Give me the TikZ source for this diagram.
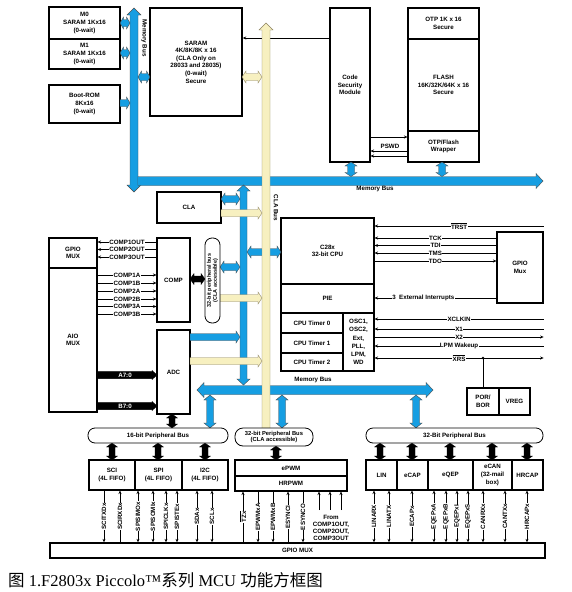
\documentclass[tikz,border=0pt]{standalone}
\usepackage{fontspec}
\setmainfont{Liberation Serif}
\newfontfamily\dsans{Liberation Sans}
\newfontfamily\cjk{Noto Sans CJK SC}
\usetikzlibrary{arrows.meta}
\definecolor{busblue}{RGB}{22,158,226}
\definecolor{busbeige}{RGB}{247,240,192}
\definecolor{beigeedge}{RGB}{140,130,95}
\newcommand\boxfont{\dsans\bfseries\fontsize{6.2}{7.6}\selectfont}
\newcommand\fatsize[3]{\def\faw{#1}\def\fah{#2}\def\fal{#3}}
\newcommand\arrDH[4]{\path[#1] (#2,#4) -- ({#2+\fal},{#4-\fah}) -- ({#2+\fal},{#4-\faw}) -- ({#3-\fal},{#4-\faw}) -- ({#3-\fal},{#4-\fah}) -- (#3,#4) -- ({#3-\fal},{#4+\fah}) -- ({#3-\fal},{#4+\faw}) -- ({#2+\fal},{#4+\faw}) -- ({#2+\fal},{#4+\fah}) -- cycle;}
\newcommand\arrRH[4]{\path[#1] (#2,{#4-\faw}) -- ({#3-\fal},{#4-\faw}) -- ({#3-\fal},{#4-\fah}) -- (#3,#4) -- ({#3-\fal},{#4+\fah}) -- ({#3-\fal},{#4+\faw}) -- (#2,{#4+\faw}) -- cycle;}
\newcommand\arrDV[4]{\path[#1] (#2,#3) -- ({#2+\fah},{#3+\fal}) -- ({#2+\faw},{#3+\fal}) -- ({#2+\faw},{#4-\fal}) -- ({#2+\fah},{#4-\fal}) -- (#2,#4) -- ({#2-\fah},{#4-\fal}) -- ({#2-\faw},{#4-\fal}) -- ({#2-\faw},{#3+\fal}) -- ({#2-\fah},{#3+\fal}) -- cycle;}
\newcommand\arrUV[4]{\path[#1] (#2,#3) -- ({#2+\fah},{#3+\fal}) -- ({#2+\faw},{#3+\fal}) -- ({#2+\faw},#4) -- ({#2-\faw},#4) -- ({#2-\faw},{#3+\fal}) -- ({#2-\fah},{#3+\fal}) -- cycle;}
\newcommand\mkbox[7][]{\node[box,#1,minimum width={#5-#3},minimum height={#6-#4}] (#2) at ({(#3+#5)/2},{(#4+#6)/2}) {#7};}
\newcommand\sigv[4]{\draw[sig,#1] (#2.south -| #3,0) -- (gbar.north -| #3,0) node[midway,vlab] {#4};}
\begin{document}
\begin{tikzpicture}[x=1pt,y=-1pt,>={Stealth[length=3.4pt,width=3pt]},
  box/.style={draw,line width=1.2pt,fill=white,align=center,inner sep=0pt,font=\boxfont},
  pill/.style={draw,line width=0.8pt,fill=white,rounded corners=7pt,align=center,inner sep=0pt,font=\boxfont},
  bluef/.style={fill=busblue,draw=black!70,line width=0.4pt},
  beigef/.style={fill=busbeige,draw=beigeedge,line width=0.4pt},
  blackf/.style={fill=black,draw=black,line width=0.3pt},
  sig/.style={line width=0.6pt},
  lab/.style={fill=white,inner sep=0.4pt,font=\boxfont},
  vlab/.style={lab,rotate=90}]
\fill[white] (0,0) rectangle (572,592);
\useasboundingbox (0,0) rectangle (572,592);
% ---- boxes
\mkbox{m0}{49}{7}{120}{39}{M0\\SARAM 1Kx16\\(0-wait)}
\mkbox{m1}{49}{39}{120}{69}{M1\\SARAM 1Kx16\\(0-wait)}
\mkbox{brom}{49}{85}{120}{123}{Boot-ROM\\8Kx16\\(0-wait)}
\mkbox[line width=1.6pt]{saram}{150}{8}{242}{116}{SARAM\\4K/8K/8K x 16\\(CLA Only on\\28033 and 28035)\\(0-wait)\\Secure}
\mkbox{csm}{330}{8}{370}{162}{Code\\Security\\Module}
\mkbox{otp}{408}{8}{479}{39}{OTP 1K x 16\\Secure}
\mkbox[line width=1.6pt]{flash}{408}{39}{479}{131}{FLASH\\16K/32K/64K x 16\\Secure}
\mkbox{wrap}{408}{131}{479}{162}{OTP/Flash\\Wrapper}
\mkbox[line width=1.6pt]{cla}{157}{192}{221}{223}{CLA}
\mkbox{cpu}{281}{218}{374}{284}{C28x\\32-bit CPU}
\mkbox{pie}{281}{284}{374}{313}{PIE}
\mkbox{t0}{281}{313}{343}{333}{CPU Timer 0}
\mkbox{t1}{281}{333}{343}{353}{CPU Timer 1}
\mkbox{t2}{281}{353}{343}{371}{CPU Timer 2}
\mkbox[font=\dsans\bfseries\fontsize{6.2}{8.3}\selectfont]{osc}{343}{313}{374}{371}{OSC1,\\OSC2,\\Ext,\\PLL,\\LPM,\\WD}
\mkbox{gmuxl}{49}{238}{97}{268}{GPIO\\MUX}
\mkbox{aio}{49}{268}{97}{412}{AIO\\MUX}
\mkbox{comp}{157}{238}{190}{322}{COMP}
\mkbox{adc}{157}{330}{190}{414}{ADC}
\mkbox{gmuxr}{497}{232}{543}{303}{GPIO\\Mux}
\mkbox{por}{467}{388}{499}{415}{POR/\\BOR}
\mkbox{vreg}{499}{388}{530}{415}{VREG}
\mkbox{sci}{89}{460}{135}{490}{SCI\\(4L FIFO)}
\mkbox{spi}{135}{460}{182}{490}{SPI\\(4L FIFO)}
\mkbox{iic}{182}{460}{228}{490}{I2C\\(4L FIFO)}
\mkbox{epwm}{235}{460}{347}{476}{ePWM}
\mkbox{hrpwm}{235}{476}{347}{491}{HRPWM}
\mkbox{lin}{366}{460}{397}{490}{LIN}
\mkbox{ecap}{397}{460}{428}{490}{eCAP}
\mkbox{eqep}{428}{460}{473}{490}{eQEP}
\mkbox{ecan}{473}{460}{512}{490}{eCAN\\(32-mail\\box)}
\mkbox{hrcap}{512}{460}{543}{490}{HRCAP}
\mkbox[line width=1.5pt]{gbar}{50}{543}{545}{558}{GPIO MUX}
% ---- CSM to SARAM
\draw[sig,->] (csm.west |- 0,38) -- (saram.east |- 0,38);
% ---- blue buses
\fatsize{4}{7}{7}\arrDV{bluef}{134}{8}{192}
\fatsize{4.5}{7.5}{7}\arrRH{bluef}{138}{543}{181}
\fill[busblue] (137.5,176.75) rectangle (138.6,185.25);
\fatsize{3.5}{6}{3.5}
\arrDH{bluef}{120}{130}{23}
\arrDH{bluef}{120}{130}{53}
\arrRH{bluef}{120}{130}{103}
\arrDH{bluef}{138}{150}{77}
\fatsize{3.5}{6}{4}
\arrDV{bluef}{351}{162}{176.5}
\arrDV{bluef}{442}{162}{176.5}
\fatsize{3.5}{6.5}{6}\arrDV{bluef}{243.5}{185}{385}
\fatsize{4.5}{7.5}{7}\arrDH{bluef}{197}{433}{390}
\fatsize{3.5}{6}{5}
\arrDV{bluef}{210}{395}{428}
\arrDV{bluef}{282}{395}{428}
\arrDV{bluef}{416}{395}{428}
\fatsize{3.5}{6}{4}
\arrDH{bluef}{221}{240}{199}
\arrDH{bluef}{220}{240}{267}
\arrRH{bluef}{190}{240}{337}
\arrDH{bluef}{247}{281}{252}
% ---- CLA bus
\fatsize{4}{7}{7}\arrUV{beigef}{266}{23}{430}
\fatsize{3.5}{6}{4}
\arrDH{beigef}{242}{262}{77}
\arrRH{beigef}{221}{262}{213}
\arrRH{beigef}{220}{262}{298}
\arrRH{beigef}{190}{262}{361}
% ---- bus labels
\node[lab,fill=none,rotate=-90] (mbv) at (144,38) {Memory Bus};
\node[lab,fill=none] (mbh) at (375,189) {Memory Bus};
\node[lab,fill=none] (mbl) at (313,380) {Memory Bus};
\node[lab,fill=none,rotate=-90] (clab) at (276,208) {CLA Bus};
% ---- black arrows
\fatsize{3}{5.5}{4}
\arrDH{blackf}{190}{205}{279}
\arrDV{blackf}{172}{414}{428}
\arrDV{blackf}{112}{443}{460}
\arrDV{blackf}{158}{443}{460}
\arrDV{blackf}{205}{443}{460}
\arrDV{blackf}{276}{446}{460}
\arrDV{blackf}{380}{443}{460}
\arrDV{blackf}{412}{443}{460}
\arrDV{blackf}{450}{443}{460}
\arrDV{blackf}{492}{443}{460}
\arrDV{blackf}{527}{443}{460}
\fatsize{3.6}{4.6}{5}
\arrRH{blackf}{97}{157}{375}
\arrRH{blackf}{97}{157}{406}
\node[font=\boxfont,text=white,inner sep=0] (a70) at (125,375) {A7:0};
\node[font=\boxfont,text=white,inner sep=0] (b70) at (125,406) {B7:0};
% ---- pills
\node[pill,rotate=90,minimum width=85,minimum height=15,font=\dsans\bfseries\fontsize{5.4}{6}\selectfont] (pv) at (212.5,280.5) {32-bit peripheral bus\\(CLA accessible)};
\node[pill,minimum width=140,minimum height=15] (p16) at (158,435.5) {16-bit Peripheral Bus};
\node[pill,minimum width=78,minimum height=18,rounded corners=8pt,font=\dsans\bfseries\fontsize{5.8}{6.2}\selectfont] (p32) at (274,437) {32-bit Peripheral Bus\\(CLA accessible)};
\node[pill,minimum width=177,minimum height=15] (p32r) at (454.5,435.5) {32-Bit Peripheral Bus};
% ---- CSM / wrapper
\draw[sig,->] (csm.east |- 0,137) -- (wrap.west |- 0,137);
\draw[sig,->] (wrap.west |- 0,151) -- (csm.east |- 0,151);
\draw[sig,->] (wrap.west |- 0,156) -- (csm.east |- 0,156);
\node[lab,fill=none] (pswd) at (390,146) {PSWD};
% ---- comparator signals
\foreach \yy/\tt in {242/COMP1OUT,249.5/COMP2OUT,257/COMP3OUT}
  \draw[sig,->] (comp.west |- 0,\yy) -- (gmuxl.east |- 0,\yy) node[midway,lab] {\tt};
\foreach \yy/\tt in {275/COMP1A,283/COMP1B,291/COMP2A,299/COMP2B,306.5/COMP3A,314/COMP3B}
  \draw[sig,->] (aio.east |- 0,\yy) -- (comp.west |- 0,\yy) node[midway,lab] {\tt};
% ---- right side signals
\draw[sig,<-] (cpu.east |- 0,226) -- (gmuxr.east |- 0,226) node[midway,lab] {$\overline{\mbox{TRST}}$};
\draw[sig,<-] (cpu.east |- 0,238) -- (gmuxr.west |- 0,238) node[midway,lab] {TCK};
\draw[sig,<-] (cpu.east |- 0,245.5) -- (gmuxr.west |- 0,245.5) node[midway,lab] {TDI};
\draw[sig,<-] (cpu.east |- 0,253) -- (gmuxr.west |- 0,253) node[midway,lab] {TMS};
\draw[sig,->] (cpu.east |- 0,261) -- (gmuxr.west |- 0,261) node[midway,lab] {TDO};
\draw[sig,<-] (pie.east |- 0,298) -- (gmuxr.west |- 0,298) node[pos=0.4,lab] {3\ \ External Interrupts};
\draw[sig,<-] (osc.east |- 0,319) -- (gmuxr.east |- 0,319) node[midway,lab] {XCLKIN};
\draw[sig,<-] (osc.east |- 0,329) -- (gmuxr.east |- 0,329) node[midway,lab] {X1};
\draw[sig,->] (osc.east |- 0,337) -- (gmuxr.east |- 0,337) node[midway,lab] {X2};
\draw[sig,<-] (osc.east |- 0,346) -- (gmuxr.east |- 0,346) node[midway,lab] {LPM Wakeup};
\draw[sig,<->] (osc.east |- 0,358) -- (gmuxr.east |- 0,358) node[midway,lab] {$\overline{\mbox{XRS}}$};
\fill (483,358) circle (1.4);
\draw[sig] (483,358) -- (por.north -| 483,0);
% ---- bottom signals
\sigv{->}{sci}{104}{SCITXDx}
\sigv{<-}{sci}{120}{SCIRXDx}
\sigv{<->}{spi}{138}{SPISIMOx}
\sigv{<->}{spi}{153}{SPISOMIx}
\sigv{<->}{spi}{166}{SPICLKx}
\sigv{<->}{spi}{177}{SPISTEx}
\sigv{<->}{iic}{197}{SDAx}
\sigv{<->}{iic}{212}{SCLx}
\sigv{<-}{hrpwm}{243}{$\overline{\mbox{TZx}}$}
\sigv{->}{hrpwm}{258}{EPWMxA}
\sigv{->}{hrpwm}{273}{EPWMxB}
\sigv{<-}{hrpwm}{288}{ESYNCI}
\sigv{->}{hrpwm}{303}{ESYNCO}
\foreach \xx in {319,330,341}
  \draw[sig,->] (\xx,510) -- (hrpwm.south -| \xx,0);
\node[font=\dsans\bfseries\fontsize{6.2}{7}\selectfont,align=center,inner sep=0] (from) at (331,528) {From\\COMP1OUT,\\COMP2OUT,\\COMP3OUT};
\sigv{<->}{lin}{374}{LINARX}
\sigv{<->}{lin}{389}{LINATX}
\sigv{<->}{ecap}{412}{ECAPx}
\sigv{<->}{eqep}{434}{EQEPxA}
\sigv{<->}{eqep}{446}{EQEPxB}
\sigv{<->}{eqep}{457}{EQEPxI}
\sigv{<->}{eqep}{468}{EQEPxS}
\sigv{<->}{ecan}{483}{CANRXx}
\sigv{<->}{ecan}{505}{CANTXx}
\sigv{<->}{hrcap}{527}{HRCAPx}
% ---- caption
\node[anchor=base west,inner sep=0,font=\fontsize{16.5}{19}\selectfont] (cap) at (8,586) {{\cjk 图} 1.F2803x Piccolo™{\cjk 系列} MCU {\cjk 功能方框图}};
\end{tikzpicture}
\end{document}
